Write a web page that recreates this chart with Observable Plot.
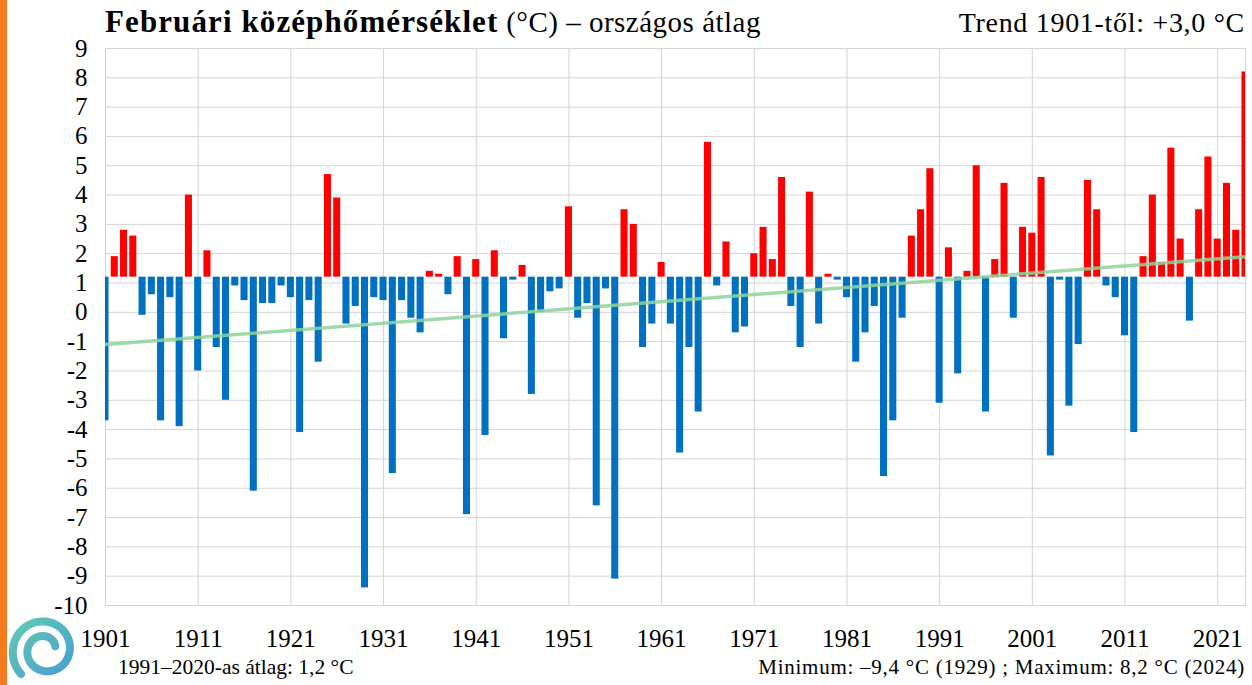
<!DOCTYPE html>
<html><head><meta charset="utf-8">
<script src="https://cdn.jsdelivr.net/npm/d3@7"></script>
<script src="https://cdn.jsdelivr.net/npm/@observablehq/plot@0.6"></script>
<style>
body{margin:0;background:#fff;width:1252px;height:685px;overflow:hidden;position:relative;font-family:"Liberation Serif","Times New Roman",serif;color:#000;}
#stripe{position:absolute;left:0;top:0;width:7px;height:685px;background:#f47b20;}
#head{position:relative;height:34px;}
#title{position:absolute;left:105px;top:6px;font-size:29px;white-space:nowrap;line-height:1;}
#title b{font-weight:bold;font-size:31px;letter-spacing:1.1px;}
#title span{letter-spacing:0.5px;}
#trend{position:absolute;right:7px;top:9px;font-size:28px;letter-spacing:0.7px;white-space:nowrap;line-height:1;}
#chart{height:621px;}
#chart svg{display:block;}
#foot{position:relative;height:30px;}
#avg{position:absolute;left:118px;top:0px;font-size:21.5px;white-space:nowrap;}
#minmax{position:absolute;right:7px;top:0px;font-size:21px;letter-spacing:0.75px;white-space:nowrap;}
#logo{position:absolute;left:6px;top:608px;}
</style></head>
<body>
<div id="stripe"></div>
<div id="head"><div id="title"><b>Februári középhőmérséklet</b><span> (°C) – országos átlag</span></div><div id="trend">Trend 1901-től: +3,0 °C</div></div>
<div id="chart"></div>
<div id="foot"><div id="avg">1991–2020-as átlag: 1,2 °C</div><div id="minmax">Minimum: –9,4 °C (1929) ; Maximum: 8,2 °C (2024)</div></div>
<svg id="logo" width="80" height="77" viewBox="0 0 80 77">
<defs><linearGradient id="g" x1="0" y1="0" x2="1" y2="1"><stop offset="0" stop-color="#5fcab3"/><stop offset="1" stop-color="#4a9fd0"/></linearGradient></defs>
<path id="spiral" fill="none" stroke="url(#g)" stroke-width="8" stroke-linecap="round"/>
</svg>
<script>
// decorative logo spiral (not data)
(function(){
  const cx = 39, cy = 42, pts = [];
  for (let a = 135; a <= 700; a += 5) {
    const t = (a - 135) / (700 - 135);
    const r = 34 - 23 * t;
    const rad = a * Math.PI / 180;
    pts.push((cx + r * Math.cos(rad)).toFixed(1) + "," + (cy + r * Math.sin(rad)).toFixed(1));
  }
  document.getElementById("spiral").setAttribute("d", "M" + pts.join("L"));
})();

const firstYear = 1901;
const values = [
 -3.7, 1.9, 2.8, 2.6, -0.1, 0.6, -3.7, 0.5, -3.9, 4.0,
 -2.0, 2.1, -1.2, -3.0, 0.9, 0.4, -6.1, 0.3, 0.3, 0.9,
 0.5, -4.1, 0.4, -1.7, 4.7, 3.9, -0.4, 0.2, -9.4, 0.5,
 0.4, -5.5, 0.4, -0.2, -0.7, 1.4, 1.3, 0.6, 1.9, -6.9,
 1.8, -4.2, 2.1, -0.9, 1.1, 1.6, -2.8, 0.0, 0.7, 0.8,
 3.6, -0.2, 0.3, -6.6, 0.8, -9.1, 3.5, 3.0, -1.2, -0.4,
 1.7, -0.4, -4.8, -1.2, -3.4, 5.8, 0.9, 2.4, -0.7, -0.5,
 2.0, 2.9, 1.8, 4.6, 0.2, -1.2, 4.1, -0.4, 1.3, 1.1,
 0.5, -1.7, -0.7, 0.2, -5.6, -3.7, -0.2, 2.6, 3.5, 4.9,
 -3.1, 2.2, -2.1, 1.4, 5.0, -3.4, 1.8, 4.4, -0.2, 2.9,
 2.7, 4.6, -4.9, 1.1, -3.2, -1.1, 4.5, 3.5, 0.9, 0.5,
 -0.8, -4.1, 1.9, 4.0, 1.7, 5.6, 2.5, -0.3, 3.5, 5.3,
 2.5, 4.4, 2.8, 8.2
];
const years = values.map((_, i) => firstYear + i);
const baseline = 1.2;            // 1991–2020 average
const trendYears = [1901, 2024];
const trendValues = [-1.1, 1.9];
const xTicks = [1901, 1911, 1921, 1931, 1941, 1951, 1961, 1971, 1981, 1991, 2001, 2011, 2021];
const yTicks = [9, 8, 7, 6, 5, 4, 3, 2, 1, 0, -1, -2, -3, -4, -5, -6, -7, -8, -9, -10];

const bars = years.map((y, i) => ({year: y, value: values[i]}));
const trend = trendYears.map((y, i) => ({year: y, value: trendValues[i]}));

const chart = Plot.plot({
  width: 1252, height: 621,
  marginLeft: 105, marginRight: 7, marginTop: 14, marginBottom: 50,
  style: {fontFamily: "'Liberation Serif','Times New Roman',serif", fontSize: "25px", color: "#000", background: "transparent", overflow: "visible"},
  x: {type: "linear", domain: [1901, 2024]},
  y: {domain: [-10, 9]},
  marks: [
    Plot.gridY(yTicks, {stroke: "#d4d4d4", strokeOpacity: 1}),
    Plot.gridX(xTicks, {stroke: "#d4d4d4", strokeOpacity: 1}),
    Plot.frame({stroke: "#d4d4d4"}),
    Plot.rect(bars, {
      x1: d => d.year - 0.38, x2: d => d.year + 0.38,
      y1: () => baseline, y2: d => d.value,
      fill: d => d.value >= baseline ? "#ff0000" : "#0070c0",
      clip: true
    }),
    Plot.line(trend, {x: "year", y: "value", stroke: "#8fd49c", strokeWidth: 3.5, strokeOpacity: 0.85, clip: true}),
    Plot.axisY(yTicks, {tickSize: 0, tickPadding: 18, tickFormat: d => String(d), fontSize: 25, label: null}),
    Plot.axisX(xTicks, {tickSize: 0, tickPadding: 24, tickFormat: d => String(d), fontSize: 25, label: null})
  ]
});
document.getElementById("chart").appendChild(chart);
</script>
</body></html>
